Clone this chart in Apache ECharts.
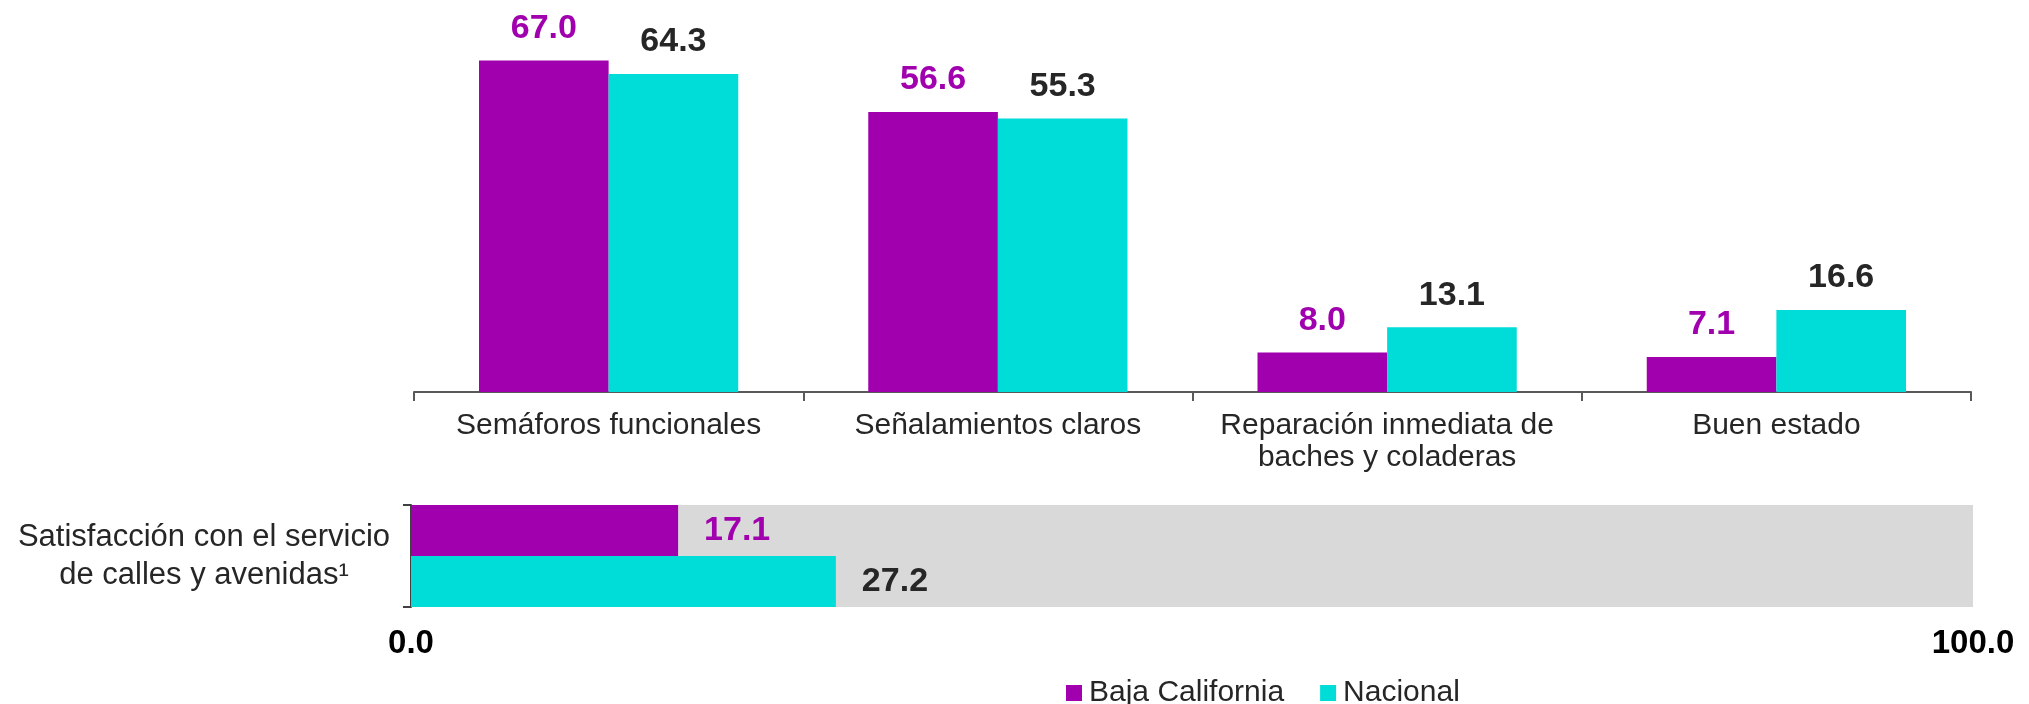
<!DOCTYPE html>
<html>
<head>
<meta charset="utf-8">
<script src="https://cdn.jsdelivr.net/npm/echarts@6/dist/echarts.min.js"></script>
<style>
  html, body { margin: 0; padding: 0; background: #fff; }
  #chart { width: 2029px; height: 704px; }
</style>
</head>
<body>
<div id="chart"></div>
<script>
const categories = ['Semáforos funcionales', 'Señalamientos claros', 'Reparación inmediata de\nbaches y coladeras', 'Buen estado']
const bajaCalifornia = [67.0, 56.6, 8.0, 7.1]
const nacional = [64.3, 55.3, 13.1, 16.6]

const satisfCategory = ['Satisfacción con el servicio\nde calles y avenidas¹']
const satisfBaja = [17.1]
const satisfNacional = [27.2]

const seriesNames = ['Baja California', 'Nacional']
const purple = '#a000ad'
const cyan = '#00dcd8'
const dark = '#262626'
const font = 'Liberation Sans, Arial, sans-serif'

const chart = echarts.init(document.getElementById('chart'))

const valueLabel = (color, position, distance) => ({
  show: true,
  position: position,
  distance: distance,
  color: color,
  fontFamily: font,
  fontSize: 34,
  fontWeight: 'bold',
  formatter: (p) => p.value.toFixed(1),
})

let options = {
  animation: false,
  legend: {
    data: seriesNames,
    left: 1061,
    top: 673,
    itemWidth: 16,
    itemHeight: 16,
    itemGap: 36,
    icon: 'rect',
    textStyle: { fontFamily: font, fontSize: 30, color: dark, padding: [0, 0, 0, 2] },
  },
  grid: [
    { left: 414, right: 58, top: 21, height: 371 },
    { left: 411, right: 56, top: 505, height: 102 },
  ],
  xAxis: [
    {
      type: 'category',
      gridIndex: 0,
      data: categories,
      axisLine: { lineStyle: { color: '#595959', width: 2 } },
      axisTick: { show: true, length: 9, lineStyle: { color: '#595959', width: 2 } },
      axisLabel: {
        interval: 0,
        margin: 18,
        fontFamily: font,
        fontSize: 30,
        lineHeight: 32,
        color: dark,
        align: 'center',
      },
    },
    {
      type: 'value',
      gridIndex: 1,
      min: 0,
      max: 100,
      interval: 100,
      splitLine: { show: false },
      axisLine: { show: false },
      axisTick: { show: false },
      axisLabel: {
        margin: 20,
        fontFamily: font,
        fontSize: 33,
        fontWeight: 'bold',
        color: '#000',
        formatter: (v) => v.toFixed(1),
      },
    },
  ],
  yAxis: [
    {
      type: 'value',
      gridIndex: 0,
      min: 0,
      max: 75,
      show: false,
    },
    {
      type: 'category',
      gridIndex: 1,
      data: satisfCategory,
      axisLine: { lineStyle: { color: '#404040', width: 2 } },
      axisTick: { show: true, length: 8, lineStyle: { color: '#404040', width: 2 } },
      axisLabel: {
        margin: 207,
        align: 'center',
        fontFamily: font,
        fontSize: 31,
        lineHeight: 38,
        color: dark,
      },
    },
  ],
  series: [
    {
      name: seriesNames[0],
      type: 'bar',
      xAxisIndex: 0,
      yAxisIndex: 0,
      barGap: '0%',
      barCategoryGap: '33.4%',
      itemStyle: { color: purple },
      label: valueLabel(purple, 'top', 15),
      data: bajaCalifornia,
    },
    {
      name: seriesNames[1],
      type: 'bar',
      xAxisIndex: 0,
      yAxisIndex: 0,
      barGap: '0%',
      barCategoryGap: '33.4%',
      itemStyle: { color: cyan },
      label: valueLabel(dark, 'top', 15),
      data: nacional,
    },
    {
      name: seriesNames[0],
      type: 'bar',
      xAxisIndex: 1,
      yAxisIndex: 1,
      barGap: '0%',
      barCategoryGap: '0%',
      showBackground: true,
      backgroundStyle: { color: '#d9d9d9' },
      itemStyle: { color: purple },
      label: valueLabel(purple, 'right', 26),
      data: satisfBaja,
    },
    {
      name: seriesNames[1],
      type: 'bar',
      xAxisIndex: 1,
      yAxisIndex: 1,
      barGap: '0%',
      barCategoryGap: '0%',
      showBackground: true,
      backgroundStyle: { color: '#d9d9d9' },
      itemStyle: { color: cyan },
      label: valueLabel(dark, 'right', 26),
      data: satisfNacional,
    },
  ],
}
options && chart.setOption(options)
</script>
</body>
</html>
